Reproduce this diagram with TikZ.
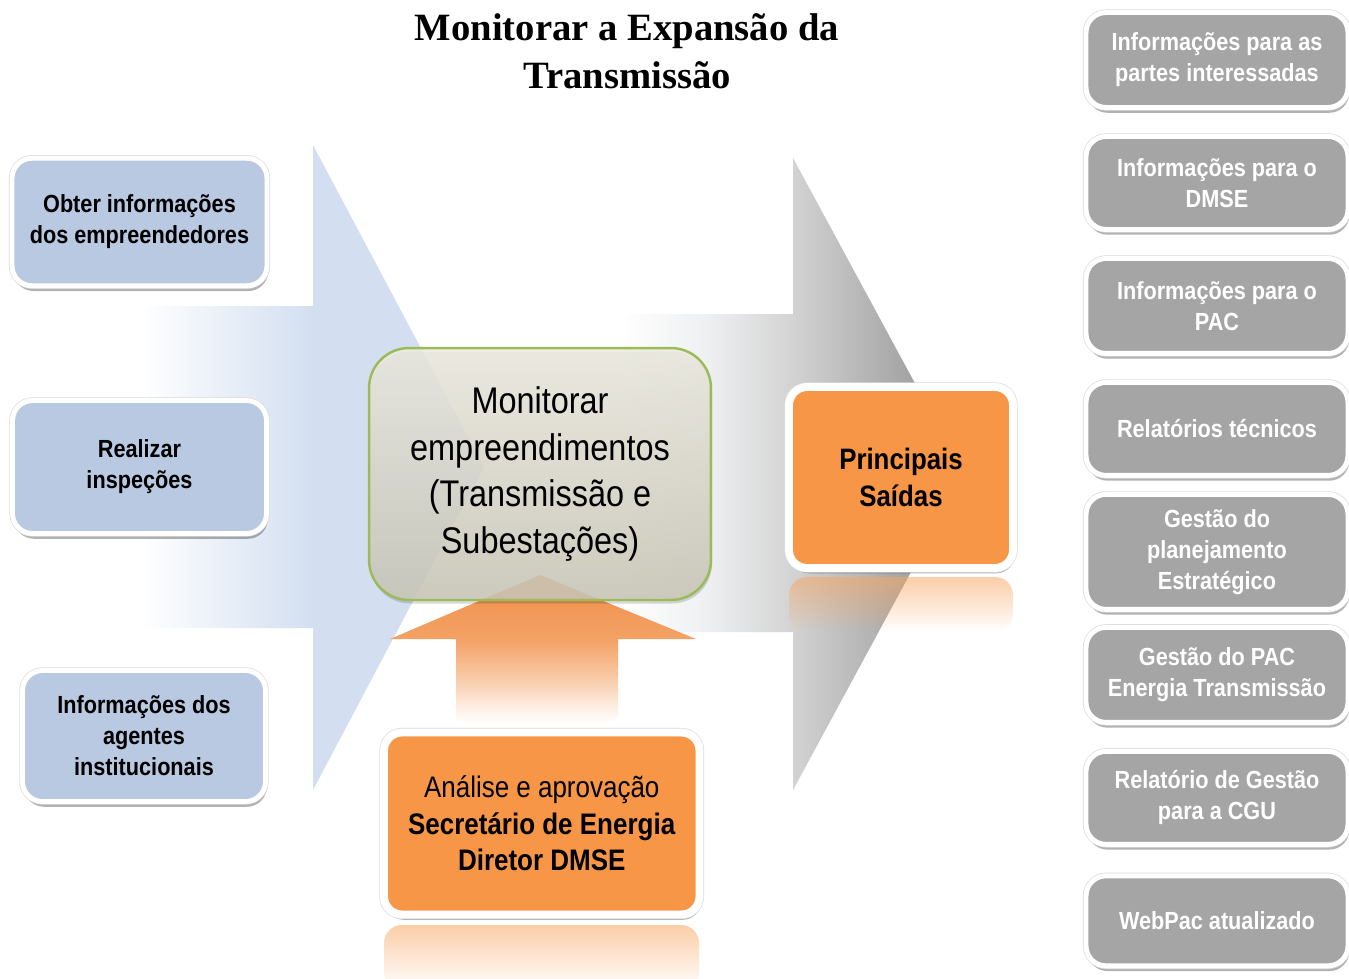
\documentclass[tikz,border=0pt]{standalone}
\usepackage{fontspec}
\newfontfamily\narrowsans{Liberation Sans}[FakeStretch=0.875]
\newfontfamily\titleserif{Liberation Serif}
\usepackage{tikz}
\usetikzlibrary{shadows,fadings,positioning}

\definecolor{inblue}{HTML}{B9C9E1}
\definecolor{outgray}{HTML}{A5A5A5}
\definecolor{keyorange}{HTML}{F79646}
\definecolor{boxgreen}{HTML}{9BBB59}
\definecolor{boxtop}{HTML}{EEECE1}
\definecolor{boxbot}{HTML}{CBC8B9}
\definecolor{arrblue}{HTML}{D3DFF1}
\definecolor{graylight}{HTML}{EEEFF1}
\definecolor{graymid}{HTML}{D3D3D3}
\definecolor{graydark}{HTML}{8E8E8E}
\definecolor{orpale}{HTML}{FDF0E6}
\definecolor{orlight}{HTML}{F8CBA8}
\definecolor{ormid}{HTML}{F4A266}
\definecolor{ortop}{HTML}{EE8E48}

% arrow fills, 25bp..75bp cover the path
\pgfdeclarehorizontalshading{blueshaft}{100bp}{color(0bp)=(white); color(25bp)=(white); color(50bp)=(arrblue); color(100bp)=(arrblue)}
\pgfdeclarehorizontalshading{grayshaft}{100bp}{color(0bp)=(white); color(25bp)=(white); color(38bp)=(graylight); color(50bp)=(graymid); color(75bp)=(graydark); color(100bp)=(graydark)}
\pgfdeclareverticalshading{orangeshaft}{100bp}{color(0bp)=(white); color(25bp)=(white); color(30bp)=(orpale); color(40bp)=(orlight); color(53bp)=(ormid); color(75bp)=(ortop); color(100bp)=(ortop)}
\tikzfading[name=refl fade, top color=transparent!45, bottom color=transparent!100]

\begin{document}
\begin{tikzpicture}[x=0.02cm,y=-0.02cm,node distance=2.46cm,
    box shadow/.style={drop shadow={shadow xshift=0.8pt,shadow yshift=-3pt,opacity=0.3,fill=black}},
    rim/.style={preaction={draw=black!14,line width=#1}},
    in node/.style={rectangle,rounded corners=0.4cm,fill=inblue,draw=white,line width=2.8pt,
                    box shadow,rim=3.6pt,align=center,inner sep=0pt,
                    font=\narrowsans\bfseries\fontsize{14.1}{17.6}\selectfont},
    out node/.style={in node,fill=outgray,text=white,minimum width=5.24cm},
    key node/.style={rectangle,rounded corners=0.36cm,fill=keyorange,draw=white,line width=4.5pt,
                     box shadow,rim=5.3pt,align=center,inner sep=0pt},
    main node/.style={rectangle,rounded corners=0.8cm,draw=boxgreen,line width=1.4pt,
                      top color=boxtop,bottom color=boxbot,fill opacity=0.85,text opacity=1,
                      drop shadow={shadow xshift=0.6pt,shadow yshift=-2pt,opacity=0.15,fill=black},
                      align=center,inner sep=0pt,font=\narrowsans\fontsize{21.1}{26.4}\selectfont},
    reflection/.style={fill=keyorange!85!white,path fading=refl fade,rounded corners=0.36cm}]

  \path[use as bounding box,fill=white] (0,0) rectangle (1349,978);

  % big arrows
  \shade[shading=blueshaft] (140,306) -- (313,306) -- (313,145) -- (484,467)
    -- (313,790) -- (313,628) -- (140,628) -- cycle;
  \shade[shading=grayshaft] (620,314) -- (793,314) -- (793,158) -- (964,474)
    -- (793,790) -- (793,632) -- (620,632) -- cycle;
  \shade[shading=orangeshaft] (456,723) -- (456,639) -- (390,639) -- (540,575)
    -- (696,639) -- (618,639) -- (618,723) -- cycle;

  \node[font=\titleserif\bfseries\fontsize{22}{27.2}\selectfont,align=center] (title) at (627,51)
    {Monitorar a Expansão da\\Transmissão};

  \node[main node,minimum width=6.84cm,minimum height=5.04cm] (monitor) at (540,474)
    {Monitorar\\empreendimentos\\(Transmissão e\\Subestações)};

  % entradas
  \node[in node,minimum width=5.1cm,minimum height=2.55cm] (obter) at (139.5,222)
    {Obter informações\\dos empreendedores};
  \node[in node,minimum width=5.08cm,minimum height=2.66cm] (inspec) at (139.5,467)
    {Realizar\\inspeções};
  \node[in node,minimum width=4.86cm,minimum height=2.62cm] (agentes) at (144,736)
    {Informações dos\\agentes\\institucionais};

  % saidas e aprovacao
  \node[key node,minimum width=4.48cm,minimum height=3.62cm,
        font=\narrowsans\bfseries\fontsize{16.8}{21}\selectfont] (saidas) at (901,477.5)
    {Principais\\Saídas};
  \node[key node,minimum width=6.31cm,minimum height=3.64cm,
        font=\narrowsans\fontsize{16.9}{20.7}\selectfont] (aprov) at (541.75,823.5)
    {Análise e aprovação\\\textbf{Secretário de Energia}\\\textbf{Diretor DMSE}};
  \fill[reflection] (789,577) rectangle (1013,632);
  \fill[reflection] (384,925) rectangle (699,990);

  % lista de saidas
  \node[out node,minimum height=1.9cm] (s1) at (1217,60) {Informações para as\\partes interessadas};
  \node[out node,minimum height=1.86cm] (s2) [below of=s1] {Informações para o\\DMSE};
  \node[out node,minimum height=1.9cm] (s3) [below of=s2] {Informações para o\\PAC};
  \node[out node,minimum height=1.86cm] (s4) [below of=s3] {Relatórios técnicos};
  \node[out node,minimum height=2.3cm] (s5) [below of=s4] {Gestão do\\planejamento\\Estratégico};
  \node[out node,minimum height=1.9cm] (s6) [below of=s5] {Gestão do PAC\\Energia Transmissão};
  \node[out node,minimum height=1.86cm] (s7) [below of=s6] {Relatório de Gestão\\para a CGU};
  \node[out node,minimum height=1.8cm] (s8) [below of=s7] {WebPac atualizado};
\end{tikzpicture}
\end{document}
